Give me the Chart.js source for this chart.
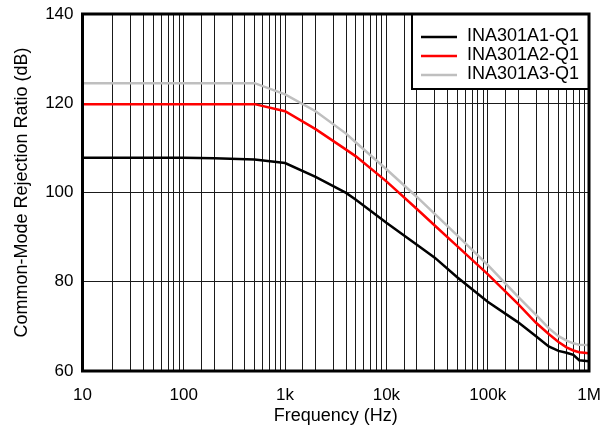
<!DOCTYPE html>
<html>
<head>
    <title>CMRR vs Frequency</title>
    <script src="https://cdn.jsdelivr.net/npm/chart.js"></script>
    <style>
        body { margin: 0; background: #fff; }
        #wrap { width: 605px; height: 432px; }
    </style>
</head>
<body>
    <div id="wrap"><canvas id="grafikCmrr"></canvas></div>
</body>
<script>
    // frequency points (Hz) shared by all three curves
    const frequencies = [10, 20, 50, 100, 200, 500, 1000, 2000, 4000, 5000, 10000, 20000, 30000,
        50000, 100000, 200000, 300000, 400000, 500000, 600000, 700000, 800000, 1000000];

    // CMRR in dB for each device
    const cmrrA1 = [107.8, 107.8, 107.8, 107.8, 107.7, 107.4, 106.6, 103.5, 99.9, 98.4, 93.2, 88.3, 85.4,
        81.0, 75.5, 70.9, 67.8, 65.5, 64.5, 64.1, 63.6, 62.4, 62.2];
    const cmrrA2 = [119.8, 119.8, 119.8, 119.8, 119.8, 119.8, 118.2, 114.2, 109.6, 108.1, 102.5, 96.3, 92.6,
        88.0, 81.7, 75.0, 70.8, 68.3, 66.5, 65.3, 64.6, 64.2, 64.0];
    const cmrrA3 = [124.5, 124.5, 124.5, 124.5, 124.5, 124.5, 122.0, 118.2, 113.2, 111.2, 105.2, 99.0, 95.2,
        90.4, 83.8, 76.6, 72.6, 69.6, 67.8, 66.8, 66.2, 65.9, 65.8];

    const seriesNames = ['INA301A1-Q1', 'INA301A2-Q1', 'INA301A3-Q1'];
    const seriesColors = ['#000000', '#ff0000', '#bfbfbf'];

    // x labels only on decades
    const decadeLabels = { 10: '10', 100: '100', 1000: '1k', 10000: '10k', 100000: '100k', 1000000: '1M' };
    const yTicks = [60, 80, 100, 120, 140];

    const FONT = 'Liberation Sans, Arial, Helvetica, sans-serif';

    function toPoints(values) {
        return frequencies.map((f, i) => ({ x: f, y: values[i] }));
    }

    // legend box in the top right corner of the plot
    const legendBox = {
        id: 'legendBox',
        afterDatasetsDraw(chart) {
            const c = chart.ctx;
            const area = chart.chartArea;
            const w = 177, h = 75;
            const x0 = area.right - w, y0 = area.top;
            c.save();
            c.fillStyle = '#fff';
            c.fillRect(x0, y0, w, h);
            c.strokeStyle = '#000';
            c.lineWidth = 2;
            c.strokeRect(x0, y0, w, h);
            c.font = '18px ' + FONT;
            c.textBaseline = 'middle';
            c.fillStyle = '#000';
            chart.data.datasets.forEach((ds, i) => {
                const y = y0 + 22 + i * 19;
                c.strokeStyle = ds.borderColor;
                c.lineWidth = 2.5;
                c.beginPath();
                c.moveTo(x0 + 9, y + 1);
                c.lineTo(x0 + 45, y + 1);
                c.stroke();
                c.fillText(ds.label, x0 + 55, y);
            });
            c.restore();
        }
    };

    // heavy frame round the plot area
    const plotFrame = {
        id: 'plotFrame',
        afterDraw(chart) {
            const c = chart.ctx;
            const a = chart.chartArea;
            c.save();
            c.strokeStyle = '#000';
            c.lineWidth = 3;
            c.strokeRect(a.left, a.top, a.right - a.left, a.bottom - a.top);
            c.restore();
        }
    };

    const ctx = document.getElementById('grafikCmrr').getContext('2d');

    var grafik = new Chart(ctx, {
        type: 'line',
        data: {
            datasets: [cmrrA1, cmrrA2, cmrrA3].map((vals, i) => ({
                label: seriesNames[i],
                data: toPoints(vals),
                borderColor: seriesColors[i],
                backgroundColor: seriesColors[i],
                borderWidth: 2.5,
                pointRadius: 0,
                tension: 0,
                fill: false
            }))
        },
        options: {
            responsive: true,
            maintainAspectRatio: false,
            animation: false,
            devicePixelRatio: 1,
            layout: {
                padding: { top: 14, right: 16, left: 0, bottom: 0 }
            },
            plugins: {
                legend: { display: false },
                tooltip: { enabled: false }
            },
            scales: {
                x: {
                    type: 'logarithmic',
                    min: 10,
                    max: 1000000,
                    afterFit: (scale) => {
                        scale.height = 61;
                        // let the end labels hang into the page padding
                        scale.paddingLeft = 0;
                        scale.paddingRight = 0;
                    },
                    grid: { color: '#1a1a1a', lineWidth: 1, drawTicks: false },
                    border: { display: false },
                    ticks: {
                        autoSkip: false,
                        maxRotation: 0,
                        padding: 14,
                        color: '#000',
                        font: { family: FONT, size: 17 },
                        callback: (v) => decadeLabels[v] !== undefined ? decadeLabels[v] : ''
                    },
                    title: {
                        display: true,
                        text: 'Frequency (Hz)',
                        color: '#000',
                        font: { family: FONT, size: 18 },
                        padding: { top: 0, bottom: 5 }
                    }
                },
                y: {
                    min: 60,
                    max: 140,
                    afterFit: (scale) => {
                        scale.width = 82.5;
                        scale.paddingTop = 0;
                        scale.paddingBottom = 0;
                    },
                    afterBuildTicks: (scale) => { scale.ticks = yTicks.map(v => ({ value: v })); },
                    grid: { color: '#1a1a1a', lineWidth: 1, drawTicks: false },
                    border: { display: false },
                    ticks: {
                        padding: 9,
                        color: '#000',
                        font: { family: FONT, size: 17 }
                    },
                    title: {
                        display: true,
                        text: 'Common-Mode Rejection Ratio (dB)',
                        color: '#000',
                        font: { family: FONT, size: 18 },
                        padding: { top: 11, bottom: 0 }
                    }
                }
            }
        },
        plugins: [legendBox, plotFrame]
    });
</script>
</html>
